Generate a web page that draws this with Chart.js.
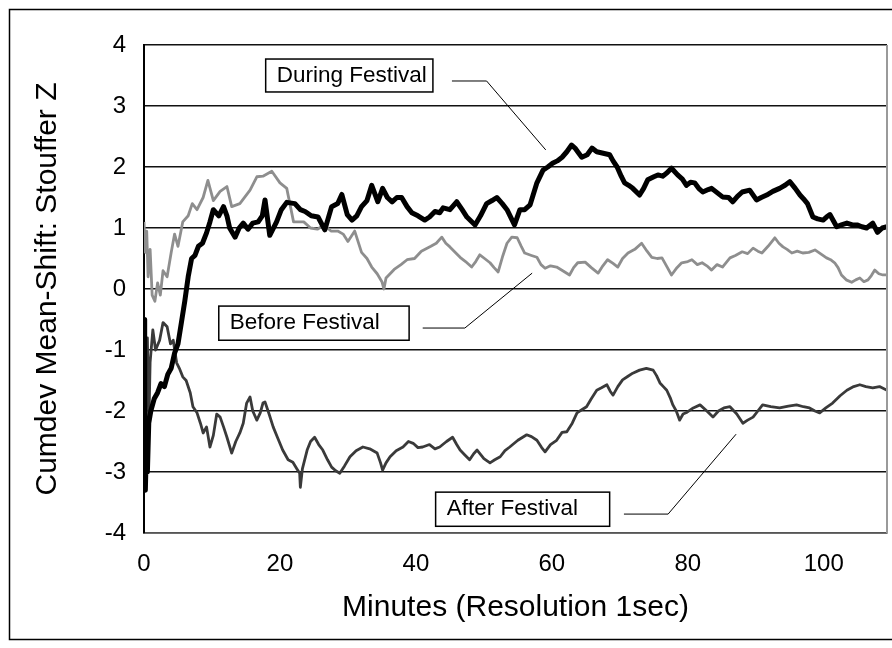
<!DOCTYPE html>
<html>
<head>
<meta charset="utf-8">
<script src="https://cdn.jsdelivr.net/npm/chart.js@4.4.1/dist/chart.umd.min.js"></script>
<style>
  html, body { margin: 0; padding: 0; background: #fff; }
  canvas { display: block; }
</style>
</head>
<body>
<canvas id="grafica" width="892" height="648"></canvas>
<script>
// [minutos, Z]
const duringSeries = [
  [0,-0.5],[0.1,-1.8],[0.2,-3.3],[0.35,-2.6],[0.5,-3.0],[0.7,-2.2],[1.0,-2.0],[1.5,-1.8],[2.0,-1.7],[2.5,-1.55],
  [3.0,-1.6],[3.5,-1.4],[4.0,-1.3],[4.5,-1.05],[5.0,-0.9],[5.5,-0.55],[6.0,-0.2],[6.5,0.2],[7.0,0.5],[7.5,0.55],
  [8.0,0.7],[8.6,0.75],[9.2,0.92],[9.7,1.1],[10.2,1.3],[11.0,1.2],[11.7,1.35],[12.2,1.2],[12.6,1.0],[13.4,0.85],
  [14.0,1.0],[14.6,1.08],[15.3,0.98],[16.0,1.08],[16.8,1.1],[17.4,1.2],[17.8,1.46],[18.5,0.88],[19.5,1.1],[20.2,1.3],
  [21.0,1.42],[22.2,1.4],[23.0,1.3],[23.7,1.27],[24.6,1.2],[25.6,1.18],[26.6,0.97],[27.6,1.35],[28.5,1.4],[29.1,1.55],
  [29.9,1.22],[30.6,1.13],[31.3,1.2],[32.0,1.35],[32.8,1.45],[33.5,1.7],[34.4,1.43],[35.1,1.65],[35.8,1.5],[36.5,1.43],
  [37.2,1.5],[37.9,1.5],[38.7,1.35],[39.4,1.25],[40.3,1.2],[41.3,1.13],[42.0,1.18],[42.8,1.27],[43.5,1.25],[44.0,1.33],
  [45.0,1.3],[46.0,1.43],[46.8,1.3],[47.5,1.18],[48.7,1.05],[49.5,1.2],[50.4,1.4],[51.2,1.45],[51.9,1.5],[52.7,1.4],
  [53.4,1.3],[54.5,1.05],[55.3,1.3],[56.0,1.3],[56.8,1.38],[57.8,1.74],[58.7,1.95],[59.4,2.0],[60.1,2.06],[60.8,2.1],
  [61.5,2.16],[62.2,2.25],[62.9,2.36],[63.4,2.31],[63.8,2.25],[64.4,2.16],[65.2,2.2],[65.9,2.31],[66.6,2.25],[67.4,2.23],
  [68.5,2.2],[69.0,2.1],[69.6,2.0],[70.2,1.85],[70.7,1.74],[71.3,1.7],[71.9,1.65],[72.9,1.54],[73.5,1.65],[74.1,1.79],
  [75.0,1.84],[75.6,1.87],[76.3,1.85],[76.9,1.9],[77.6,1.98],[78.5,1.87],[79.2,1.8],[79.8,1.7],[80.4,1.75],[81.0,1.74],
  [81.6,1.65],[82.2,1.59],[83.0,1.63],[83.5,1.65],[84.3,1.58],[85.1,1.51],[86.0,1.5],[86.6,1.43],[87.3,1.52],[88.0,1.59],
  [89.1,1.62],[90.1,1.46],[90.8,1.5],[91.6,1.54],[92.5,1.6],[93.5,1.65],[94.3,1.7],[95.0,1.76],[95.8,1.65],[96.5,1.54],
  [97.0,1.48],[97.6,1.4],[98.4,1.18],[99.1,1.15],[99.9,1.13],[100.4,1.18],[100.9,1.22],[101.9,1.02],[102.6,1.05],[103.4,1.08],
  [104.2,1.05],[104.9,1.05],[105.6,1.02],[106.3,1.0],[107.2,1.08],[107.9,0.93],[108.6,1.0],[109.3,1.02]
];

const beforeSeries = [
  [0,1.1],[0.2,0.6],[0.4,0.95],[0.6,0.2],[0.9,0.65],[1.2,-0.1],[1.6,-0.2],[2.0,0.1],[2.4,-0.1],[2.8,0.3],
  [3.4,0.2],[4.0,0.6],[4.5,0.9],[5.0,0.7],[5.7,1.1],[6.5,1.2],[7.1,1.4],[7.8,1.3],[8.7,1.5],[9.4,1.78],
  [10.2,1.45],[11.2,1.6],[12.2,1.68],[12.9,1.35],[14.1,1.4],[15.6,1.62],[16.6,1.84],[17.5,1.85],[18.8,1.93],[20.0,1.74],
  [21.0,1.65],[22.0,1.1],[23.5,1.1],[24.5,1.0],[25.5,0.98],[26.5,1.05],[27.5,0.95],[28.5,0.95],[29.3,0.9],[30.0,0.78],
  [31.0,0.95],[32.0,0.6],[32.8,0.5],[33.5,0.36],[34.3,0.25],[35.0,0.12],[35.3,0.0],[35.6,0.18],[36.2,0.25],[36.8,0.32],
  [37.8,0.4],[38.7,0.48],[39.8,0.5],[40.8,0.62],[42.2,0.7],[43.0,0.75],[43.8,0.85],[44.4,0.75],[45.0,0.69],[45.8,0.6],
  [46.5,0.52],[47.3,0.45],[48.2,0.36],[48.8,0.45],[49.4,0.56],[50.1,0.5],[50.9,0.43],[51.5,0.35],[52.1,0.28],[52.8,0.55],
  [53.4,0.75],[54.1,0.85],[54.9,0.84],[55.5,0.7],[56.0,0.59],[57.0,0.55],[57.8,0.52],[58.4,0.4],[59.0,0.34],[59.8,0.38],
  [60.7,0.36],[61.6,0.3],[62.6,0.23],[63.2,0.35],[63.8,0.43],[64.9,0.44],[65.8,0.35],[66.8,0.26],[67.5,0.38],[68.2,0.48],
  [69.0,0.42],[69.7,0.36],[70.4,0.5],[71.2,0.59],[72.2,0.65],[73.2,0.75],[74.0,0.62],[74.7,0.52],[75.5,0.5],[76.2,0.51],
  [77.0,0.35],[77.6,0.23],[78.4,0.35],[79.1,0.43],[80.0,0.45],[80.6,0.48],[81.4,0.4],[82.1,0.43],[82.8,0.38],[83.5,0.31],
  [84.3,0.4],[85.1,0.36],[86.2,0.51],[87.0,0.55],[88.0,0.61],[88.8,0.58],[89.6,0.67],[90.3,0.62],[90.9,0.59],[91.8,0.7],
  [92.8,0.84],[93.4,0.75],[94.0,0.69],[94.6,0.65],[95.3,0.59],[96.1,0.62],[96.9,0.59],[97.8,0.6],[98.7,0.64],[99.5,0.58],
  [100.4,0.51],[101.0,0.48],[101.6,0.43],[102.1,0.35],[102.6,0.23],[103.3,0.15],[104.1,0.11],[104.7,0.15],[105.3,0.18],[105.9,0.12],
  [106.5,0.15],[107.0,0.22],[107.5,0.31],[108.1,0.25],[108.7,0.23],[109.3,0.23]
];

const afterSeries = [
  [0,-1.0],[0.15,-0.5],[0.3,-1.6],[0.5,-0.8],[0.7,-2.3],[0.9,-1.2],[1.3,-0.67],[1.7,-1.0],[2.3,-0.84],[2.8,-0.55],
  [3.4,-0.62],[3.9,-0.9],[4.3,-0.84],[4.8,-1.21],[5.2,-1.3],[5.7,-1.44],[6.2,-1.5],[6.8,-1.7],[7.2,-1.93],[7.8,-2.03],
  [8.3,-2.2],[8.7,-2.36],[9.2,-2.26],[9.7,-2.59],[10.2,-2.4],[10.7,-2.05],[11.2,-2.1],[11.7,-2.26],[12.2,-2.43],[12.9,-2.69],
  [13.5,-2.5],[14.1,-2.36],[14.6,-2.2],[15.1,-1.87],[15.6,-1.77],[16.0,-2.0],[16.6,-2.15],[17.1,-2.03],[17.5,-1.87],[17.8,-1.85],
  [18.4,-2.05],[19.0,-2.26],[19.7,-2.45],[20.4,-2.64],[21.2,-2.8],[21.9,-2.84],[22.5,-2.95],[22.9,-3.02],[23.0,-3.25],[23.3,-2.95],
  [24.0,-2.64],[24.5,-2.5],[25.1,-2.43],[25.7,-2.55],[26.3,-2.64],[27.0,-2.8],[27.6,-2.92],[28.2,-2.98],[28.8,-3.02],[29.5,-2.9],
  [30.3,-2.75],[31.2,-2.65],[32.2,-2.59],[33.2,-2.62],[34.3,-2.69],[34.8,-2.85],[35.1,-2.97],[35.6,-2.85],[36.2,-2.75],[37.1,-2.65],
  [38.1,-2.59],[38.9,-2.5],[39.6,-2.53],[40.3,-2.6],[41.0,-2.59],[42.0,-2.55],[42.8,-2.62],[43.5,-2.59],[44.5,-2.5],[45.4,-2.43],
  [46.0,-2.55],[46.5,-2.64],[47.2,-2.72],[47.9,-2.8],[48.5,-2.7],[49.0,-2.64],[50.0,-2.78],[50.9,-2.85],[51.6,-2.8],[52.4,-2.75],
  [53.1,-2.65],[53.8,-2.59],[55.0,-2.48],[56.3,-2.39],[57.0,-2.42],[57.8,-2.48],[58.5,-2.6],[59.0,-2.67],[59.8,-2.55],[60.7,-2.48],
  [61.5,-2.35],[62.2,-2.34],[63.0,-2.2],[63.7,-2.03],[64.4,-1.98],[65.1,-1.93],[65.8,-1.8],[66.6,-1.66],[67.3,-1.62],[68.1,-1.57],
  [68.6,-1.68],[69.0,-1.74],[69.7,-1.6],[70.4,-1.49],[71.2,-1.43],[71.9,-1.38],[72.9,-1.33],[73.9,-1.3],[74.9,-1.33],[75.4,-1.42],
  [75.9,-1.54],[76.4,-1.6],[76.9,-1.66],[77.4,-1.78],[77.8,-1.9],[78.3,-2.0],[78.8,-2.15],[79.3,-2.05],[79.9,-2.02],[80.8,-1.95],
  [81.8,-1.9],[82.8,-2.0],[83.7,-2.1],[84.5,-2.0],[85.3,-1.95],[86.2,-1.93],[87.2,-2.05],[88.1,-2.2],[88.8,-2.15],[89.6,-2.1],
  [90.3,-2.0],[91.0,-1.9],[92.2,-1.93],[93.5,-1.95],[94.8,-1.92],[96.0,-1.9],[97.0,-1.93],[97.9,-1.95],[98.7,-2.0],[99.4,-2.03],
  [100.3,-1.95],[101.3,-1.87],[102.4,-1.75],[103.4,-1.66],[104.4,-1.6],[105.3,-1.57],[106.2,-1.6],[107.2,-1.62],[108.2,-1.6],[109.3,-1.66]
];

const xTicks = [0, 20, 40, 60, 80, 100];
const yTicks = [-4, -3, -2, -1, 0, 1, 2, 3, 4];

// cajas de etiqueta con su linea guia (en unidades de datos)
const etiquetas = [
  { text: 'During Festival', box: [17.9, 3.77, 42.5, 3.23], guia: [[45.3, 3.41], [50.4, 3.41], [59.1, 2.28]] },
  { text: 'Before Festival', box: [11.0, -0.28, 39.0, -0.84], guia: [[41.0, -0.64], [47.2, -0.64], [57.1, 0.26]] },
  { text: 'After Festival', box: [42.9, -3.33, 68.5, -3.89], guia: [[70.6, -3.69], [77.1, -3.69], [87.1, -2.38]] }
];

const toPts = s => s.map(p => ({ x: p[0], y: p[1] }));

const FUENTE = "'Liberation Sans', Arial, sans-serif";

const extras = {
  id: 'extras',
  afterDatasetsDraw(chart) {
    const { ctx, chartArea, scales } = chart;
    const sx = scales.x, sy = scales.y;
    ctx.save();
    // borde derecho del area de trazado
    ctx.strokeStyle = '#9a9a9a';
    ctx.lineWidth = 2;
    ctx.beginPath();
    ctx.moveTo(chartArea.right, chartArea.top);
    ctx.lineTo(chartArea.right, chartArea.bottom);
    ctx.stroke();

    etiquetas.forEach(e => {
      const x1 = sx.getPixelForValue(e.box[0]);
      const y1 = sy.getPixelForValue(e.box[1]);
      const x2 = sx.getPixelForValue(e.box[2]);
      const y2 = sy.getPixelForValue(e.box[3]);
      ctx.fillStyle = '#fff';
      ctx.fillRect(x1, y1, x2 - x1, y2 - y1);
      ctx.strokeStyle = '#000';
      ctx.lineWidth = 1.5;
      ctx.strokeRect(x1, y1, x2 - x1, y2 - y1);
      ctx.fillStyle = '#000';
      ctx.font = '22.5px ' + FUENTE;
      ctx.textAlign = 'left';
      ctx.textBaseline = 'middle';
      ctx.fillText(e.text, x1 + 11, (y1 + y2) / 2);

      ctx.lineWidth = 1;
      ctx.beginPath();
      e.guia.forEach((p, i) => {
        const px = sx.getPixelForValue(p[0]);
        const py = sy.getPixelForValue(p[1]);
        if (i === 0) ctx.moveTo(px, py); else ctx.lineTo(px, py);
      });
      ctx.stroke();
    });
    ctx.restore();
  },
  afterDraw(chart) {
    const { ctx } = chart;
    ctx.save();
    ctx.strokeStyle = '#000';
    ctx.lineWidth = 1.5;
    ctx.strokeRect(9.5, 9.5, 900, 630);
    ctx.restore();
  }
};

new Chart(document.getElementById('grafica'), {
  type: 'line',
  data: {
    datasets: [
      { label: 'During Festival', data: toPts(duringSeries), borderColor: '#000', borderWidth: 5 },
      { label: 'After Festival', data: toPts(afterSeries), borderColor: '#3a3a3a', borderWidth: 2.8 },
      { label: 'Before Festival', data: toPts(beforeSeries), borderColor: '#8e8e8e', borderWidth: 2.8 }
    ]
  },
  options: {
    responsive: false,
    animation: false,
    parsing: false,
    layout: { padding: { top: 45, right: 5, left: 0, bottom: 0 } },
    elements: {
      point: { radius: 0 },
      line: { tension: 0, borderJoinStyle: 'round' }
    },
    plugins: {
      legend: { display: false },
      tooltip: { enabled: false }
    },
    scales: {
      x: {
        type: 'linear',
        min: 0,
        max: 109.3,
        afterFit: s => { s.height = 115; },
        afterBuildTicks: s => { s.ticks = xTicks.map(v => ({ value: v })); },
        grid: { display: false, drawTicks: false },
        border: { color: '#555', width: 1.5 },
        ticks: { color: '#000', padding: 17, font: { family: FUENTE, size: 24 } },
        title: {
          display: true,
          text: 'Minutes (Resolution 1sec)',
          color: '#000',
          font: { family: FUENTE, size: 30 },
          padding: { top: 0, bottom: 22 }
        }
      },
      y: {
        min: -4,
        max: 4,
        afterFit: s => { s.width = 144; },
        afterBuildTicks: s => { s.ticks = yTicks.map(v => ({ value: v })); },
        grid: { color: '#111', lineWidth: 1.5, drawTicks: false },
        border: { color: '#000', width: 2 },
        ticks: { color: '#000', padding: 18, font: { family: FUENTE, size: 24 } },
        title: {
          display: true,
          text: 'Cumdev Mean-Shift: Stouffer Z',
          color: '#000',
          font: { family: FUENTE, size: 30 },
          padding: { top: 30, bottom: 0 }
        }
      }
    }
  },
  plugins: [extras]
});
</script>
</body>
</html>
